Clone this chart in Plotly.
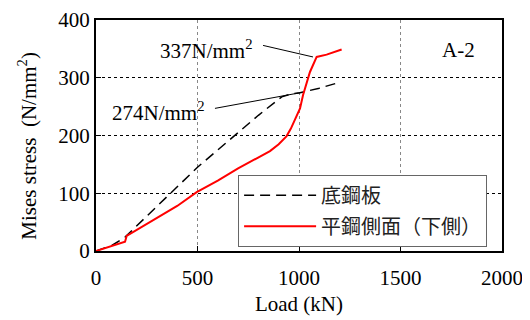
import plotly.graph_objects as go

# Data
base_load = [0, 80, 143, 250, 364, 500, 660, 800, 915, 960, 1005, 1100, 1200]
base_stress = [0, 10, 24, 60, 99, 145, 193, 235, 267, 272, 274, 282, 292]

side_load = [0, 50, 100, 143, 151, 220, 299, 400, 496, 600, 700, 800, 857, 900, 939,
             960, 972, 990, 1005, 1020, 1038, 1054, 1087, 1136, 1210]
side_stress = [0, 6, 11, 16, 26, 40, 56, 78, 102, 122, 143, 162, 173, 185, 199,
               212, 221, 235, 247, 270, 293, 310, 336, 340, 349]

series_names = ["底鋼板", "平鋼側面（下側）"]

label_texts = ["337N/mm<sup>2</sup>", "274N/mm<sup>2</sup>", "A-2"]
label_x = [544, 308, 1788]
label_y = [349, 241, 348]

leader1_x = [823, 1069]
leader1_y = [356, 336]
leader2_x = [586, 1005]
leader2_y = [247, 274]

x_ticks = [0, 500, 1000, 1500, 2000]
y_ticks = [0, 100, 200, 300, 400]

y_title = "Mises stress  (N/mm<sup>2</sup>)"
x_title = "Load (kN)"

serif = "Liberation Serif, Times New Roman, serif"
cjk = "Noto Sans CJK JP, sans-serif"

fig = go.Figure()
fig.add_trace(go.Scatter(x=base_load, y=base_stress, mode="lines", name=series_names[0],
                         legendgroup="a",
                         line=dict(color="black", width=1.5, dash="10px,6px")))
fig.add_trace(go.Scatter(x=side_load, y=side_stress, mode="lines", name=series_names[1],
                         legendgroup="b",
                         line=dict(color="#ff0000", width=2)))
for lx, ly in [(leader1_x, leader1_y), (leader2_x, leader2_y)]:
    fig.add_trace(go.Scatter(x=lx, y=ly, mode="lines", showlegend=False,
                             line=dict(color="black", width=1), hoverinfo="skip"))

for t, x, y in zip(label_texts, label_x, label_y):
    fig.add_annotation(x=x, y=y, text=t, showarrow=False, xref="x", yref="y",
                       font=dict(family=serif, size=21, color="black"))

# y-axis title as rotated text
fig.add_annotation(x=-0.168, y=0.455, xref="paper", yref="paper", text=y_title,
                   textangle=-90, showarrow=False, xanchor="center", yanchor="middle",
                   font=dict(family=serif, size=21, color="black"))

fig.update_layout(
    width=530, height=320,
    margin=dict(l=88, r=36, t=12, b=77, autoexpand=False),
    paper_bgcolor="white", plot_bgcolor="white",
    showlegend=True,
    legend=dict(x=0.35, y=0.33, xanchor="left", yanchor="top",
                bordercolor="#666", borderwidth=1, bgcolor="white",
                font=dict(family=cjk, size=20, color="#222"),
                itemwidth=72, tracegroupgap=2),
)
fig.update_xaxes(range=[0, 2000], tickvals=x_ticks, ticks="inside", ticklen=5,
                 tickcolor="black", showline=True, linecolor="black", linewidth=2,
                 mirror=True, showgrid=True, gridcolor="#888", griddash="dot",
                 gridwidth=1, zeroline=False, automargin=False,
                 ticklabeloverflow="allow", ticklabelstandoff=7,
                 tickfont=dict(family=serif, size=21, color="black"),
                 title=dict(text=x_title, font=dict(family=serif, size=21, color="black"),
                            standoff=7))
fig.update_yaxes(range=[0, 400], tickvals=y_ticks, ticks="inside", ticklen=5,
                 tickcolor="black", showline=True, linecolor="black", linewidth=2,
                 mirror=True, showgrid=True, gridcolor="black", griddash="dot",
                 gridwidth=1, zeroline=False, automargin=False,
                 ticklabeloverflow="allow", ticksuffix="\u00a0",
                 tickfont=dict(family=serif, size=21, color="black"))

fig.write_html("out.html")
